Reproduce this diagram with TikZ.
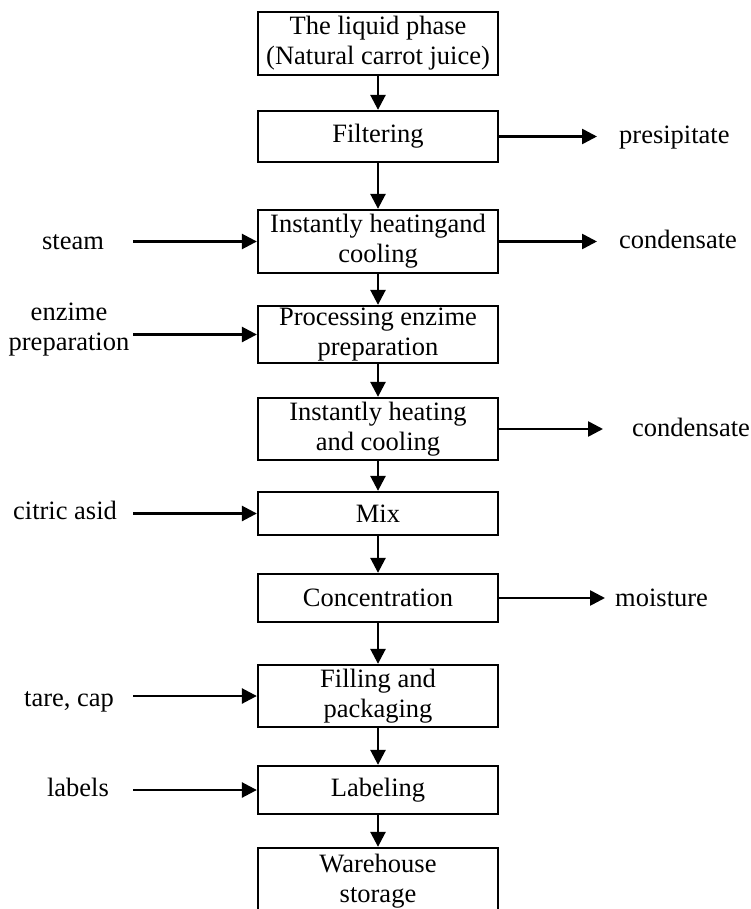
\documentclass[tikz,border=0pt]{standalone}
\usepackage{fontspec}
\setmainfont{Liberation Serif}
\usetikzlibrary{arrows.meta}
\begin{document}
\begin{tikzpicture}[x=1pt,y=-1pt,
  procbox/.style={draw,line width=2.3pt,inner sep=0pt,minimum width=240pt,align=center,
    font=\fontsize{26.5}{30}\selectfont},
  lbl/.style={inner sep=0pt,font=\fontsize{26.5}{30}\selectfont},
  arr/.style={line width=2.6pt,-{Triangle[length=15pt,width=15pt]}}]
\useasboundingbox (0,0) rectangle (750,909);
\clip (0,0) rectangle (750,909);
% process boxes (centre x = 378)
\node[procbox,minimum height=63pt] (b1) at (378,43.5) {The liquid phase\\(Natural carrot juice)};
\node[procbox,minimum height=51pt] (b2) at (378,136.5) {Filtering};
\node[procbox,minimum height=63pt] (b3) at (378,241.5) {Instantly heatingand\\cooling};
\node[procbox,minimum height=57pt] (b4) at (378,334.5) {Processing enzime\\preparation};
\node[procbox,minimum height=62pt] (b5) at (378,429) {Instantly heating\\and cooling};
\node[procbox,minimum height=43pt] (b6) at (378,513.5) {Mix};
\node[procbox,minimum height=48pt] (b7) at (378,598) {Concentration};
\node[procbox,minimum height=62pt] (b8) at (378,696) {Filling and\\packaging};
\node[procbox,minimum height=48pt] (b9) at (378,790) {Labeling};
\node[procbox,minimum height=66pt] (b10) at (378,881) {Warehouse\\storage};
% main flow
\foreach \a/\b in {b1/b2,b2/b3,b3/b4,b4/b5,b5/b6,b6/b7,b7/b8,b8/b9,b9/b10}
  \draw[arr] (\a.south) -- (\b.north);
% inputs
\node[lbl,anchor=base] (steam) at (73,249) {steam};
\node[lbl,align=center] (enz) at (69,330) {enzime\\preparation};
\node[lbl,anchor=base] (citric) at (65,519) {citric asid};
\node[lbl,anchor=base] (tare) at (69,706) {tare, cap};
\node[lbl,anchor=base] (labels) at (78,796) {labels};
\coordinate (i3) at (133,241.5);
\coordinate (i4) at (133,334.5);
\coordinate (i6) at (133,513.5);
\coordinate (i8) at (133,696);
\coordinate (i9) at (133,790);
\draw[arr] (i3) -- (b3.west);
\draw[arr] (i4) -- (b4.west);
\draw[arr] (i6) -- (b6.west);
\draw[arr] (i8) -- (b8.west);
\draw[arr] (i9) -- (b9.west);
% outputs
\coordinate (o2) at (597,136.5);
\coordinate (o3) at (597,241.5);
\coordinate (o5) at (603,429);
\coordinate (o7) at (605,598);
\draw[arr] (b2.east) -- (o2);
\draw[arr] (b3.east) -- (o3);
\draw[arr] (b5.east) -- (o5);
\draw[arr] (b7.east) -- (o7);
\node[lbl,anchor=base west] (presip) at (619,144) {presipitate};
\node[lbl,anchor=base west] (cond1) at (619,248) {condensate};
\node[lbl,anchor=base west] (cond2) at (632,436) {condensate};
\node[lbl,anchor=base west] (moist) at (615,606) {moisture};
\end{tikzpicture}
\end{document}
